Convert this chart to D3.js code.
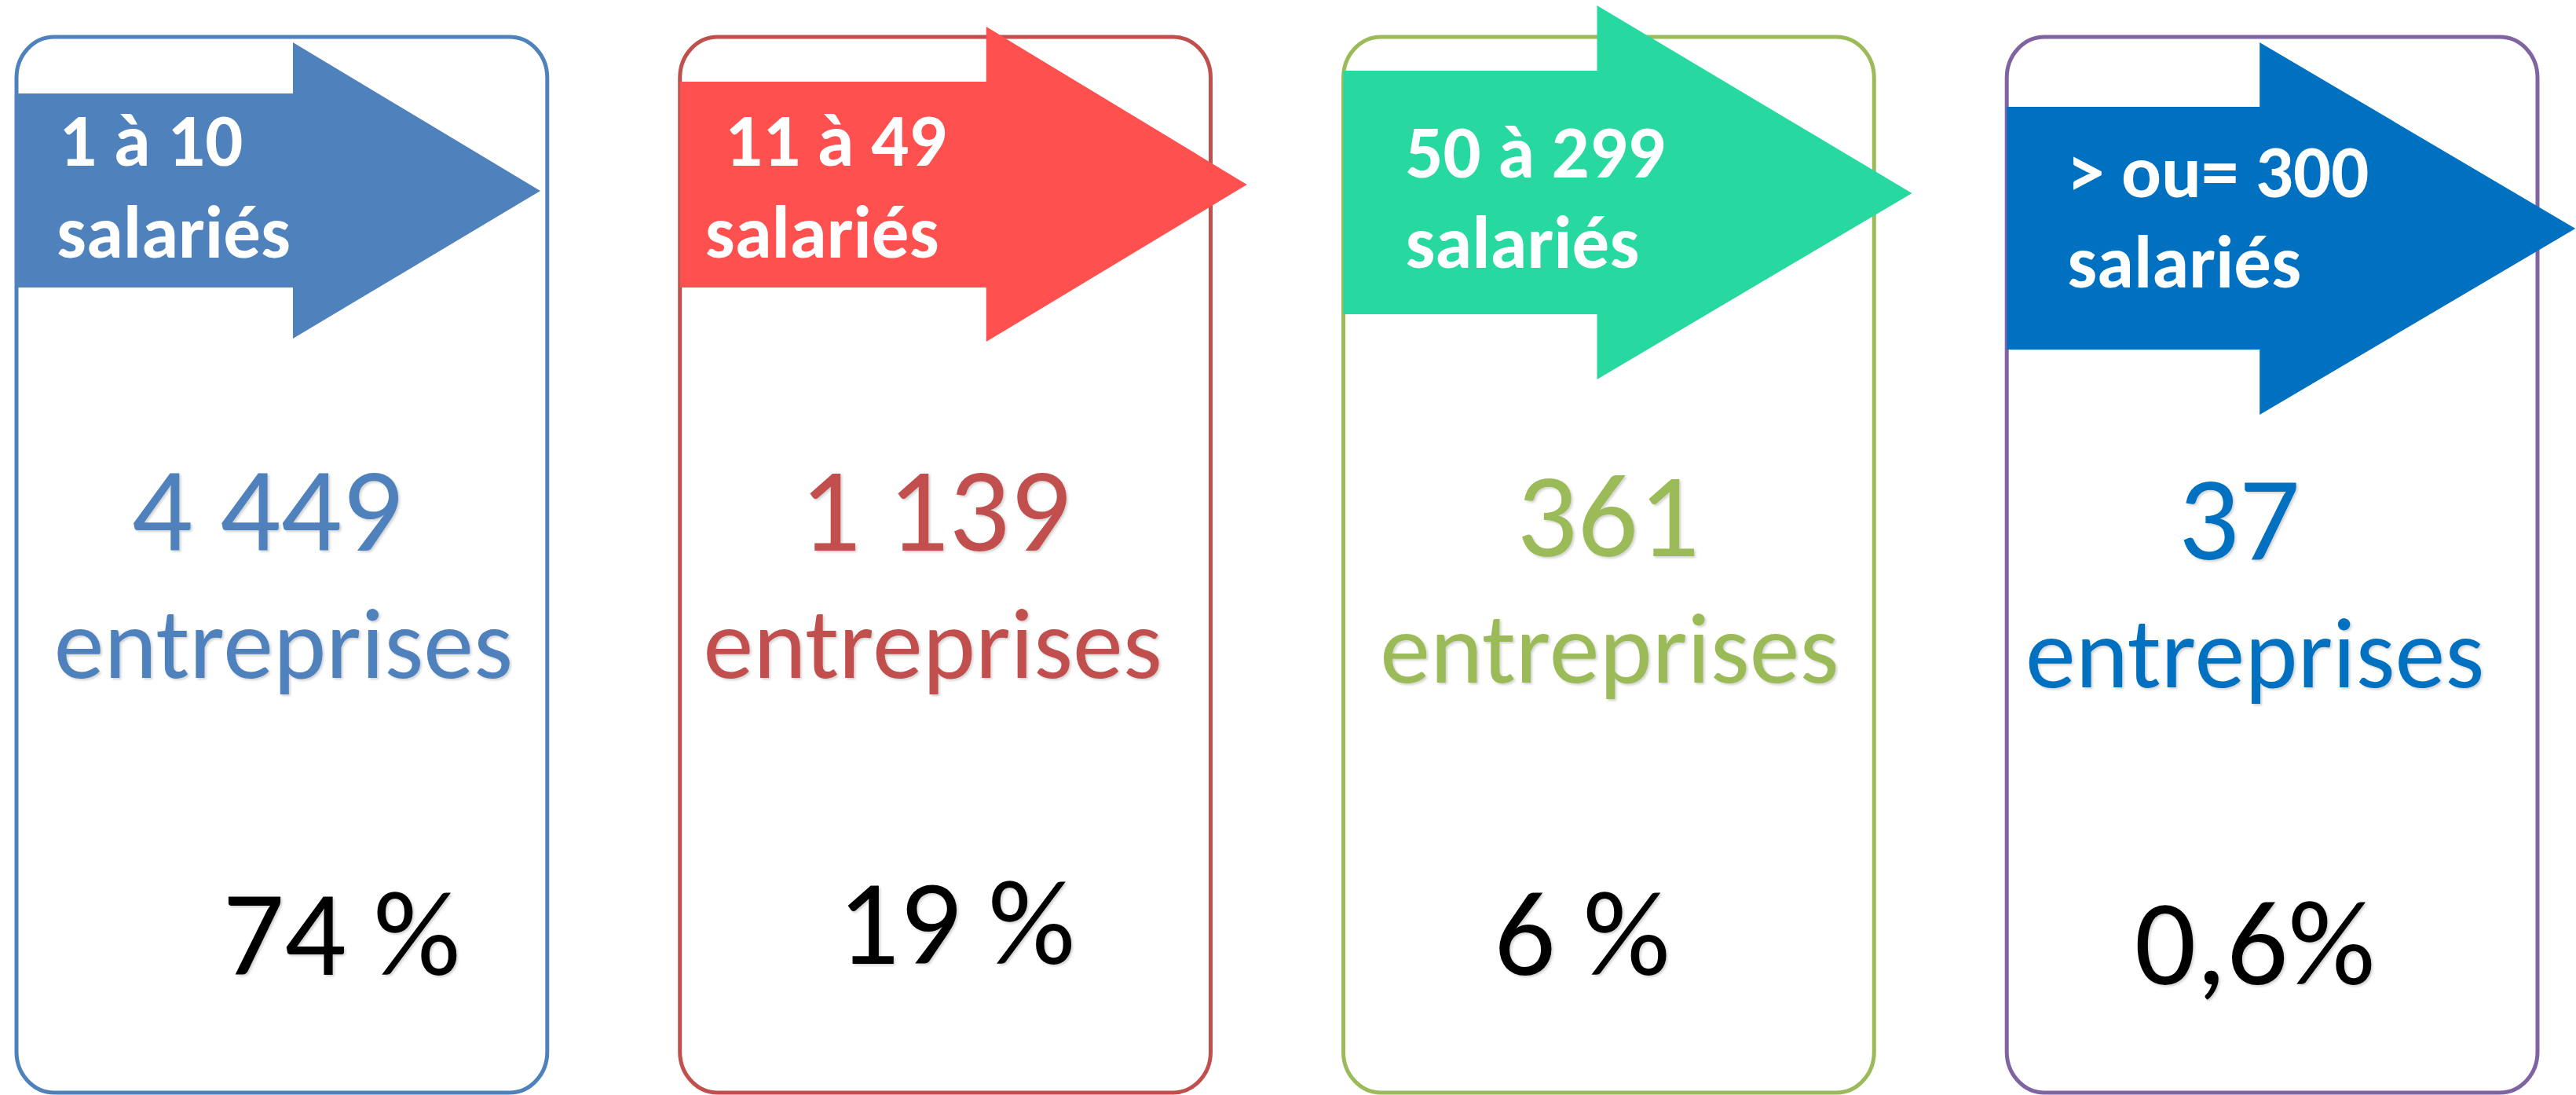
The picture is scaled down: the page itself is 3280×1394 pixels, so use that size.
<!DOCTYPE html>
<html>
<head>
<meta charset="utf-8">
<script src="https://cdn.jsdelivr.net/npm/d3@7"></script>
<style>
  html, body { margin: 0; padding: 0; background: #fff; }
  svg { display: block; }
  text { font-family: Carlito, Calibri, Lato, sans-serif; }
</style>
</head>
<body>
<div id="chart"></div>
<script>
// Data
const sizeBands = ["1 à 10", "11 à 49", "50 à 299", "> ou= 300"];
const sizeUnit = "salariés";
const companyCounts = [4449, 1139, 361, 37];
const companyUnit = "entreprises";
const shareLabels = ["74 %", "19 %", "6 %", "0,6%"];

// Colours per card
const borderColors = ["#4F81BD", "#C0504D", "#9BBB59", "#8064A2"];
const arrowColors = ["#4F81BD", "#FF5050", "#27D8A0", "#0070C0"];
const countColors = ["#4F81BD", "#C0504D", "#9BBB59", "#0070C0"];

// Arrow shapes, relative to the card's left edge (x) and the page (y)
const arrowLayout = [
    {shaftEnd: 352, tip: 667, shaftTop: 119, shaftBottom: 366, headTop: 54, headBottom: 431, tipY: 243},
    {shaftEnd: 390, tip: 722, shaftTop: 104, shaftBottom: 366, headTop: 34, headBottom: 435, tipY: 235},
    {shaftEnd: 323, tip: 724, shaftTop: 90, shaftBottom: 400, headTop: 7, headBottom: 483, tipY: 246},
    {shaftEnd: 322, tip: 724, shaftTop: 136, shaftBottom: 445, headTop: 54, headBottom: 528, tipY: 291}
];
// Header text position and offsets of the big texts from the card centre
const headerLayout = [
    {x1: 54, x2: 51, y1: 211, y2: 328},
    {x1: 57, x2: 32, y1: 211, y2: 328},
    {x1: 79, x2: 79, y1: 226, y2: 341},
    {x1: 77, x2: 77, y1: 251, y2: 366}
];
const textLayout = [
    {num: -19, numY: 701, ent: 2, entY: 863, pct: 76, pctY: 1241},
    {num: -13, numY: 701, ent: -16, entY: 863, pct: 14, pctY: 1227},
    {num: -1, numY: 708, ent: 1, entY: 869, pct: -34, pctY: 1241},
    {num: -42, numY: 712, ent: -22, entY: 875, pct: -22, pctY: 1253}
];

const width = 3280, height = 1394;
const cardTop = 47, cardBottom = 1391;

const frLocale = d3.formatLocale({decimal: ",", thousands: " ", grouping: [3], currency: ["", " €"]});
const formatCount = frLocale.format(",d");

const svg = d3.select("#chart").append("svg")
    .attr("width", width)
    .attr("height", height)
    .attr("viewBox", `0 0 ${width} ${height}`);

// Soft text shadow like the original slide
const shadow = svg.append("defs").append("filter")
    .attr("id", "txtShadow")
    .attr("x", "-10%").attr("y", "-10%")
    .attr("width", "120%").attr("height", "130%");
shadow.append("feDropShadow")
    .attr("dx", 2).attr("dy", 2)
    .attr("stdDeviation", 1.5)
    .attr("flood-color", "#000")
    .attr("flood-opacity", 0.18);

// One band per size class
const xScale = d3.scaleBand()
    .domain(sizeBands)
    .range([21, 3231])
    .paddingInner(0.2)
    .paddingOuter(0);

const cards = svg.selectAll("g.card")
    .data(sizeBands.map((d, i) => ({band: d, i: i})))
    .join("g")
        .attr("class", "card")
        .attr("transform", (d) => `translate(${xScale(d.band)},0)`);

// Rounded frame
cards.append("rect")
    .attr("x", 0)
    .attr("y", cardTop)
    .attr("width", xScale.bandwidth())
    .attr("height", cardBottom - cardTop)
    .attr("rx", 48)
    .attr("ry", 52)
    .attr("fill", "none")
    .attr("stroke", (d) => borderColors[d.i])
    .attr("stroke-width", 5);

// Arrow shape on top of the frame
cards.append("path")
    .attr("d", (d) => {
        const a = arrowLayout[d.i];
        return `M0,${a.shaftTop} L${a.shaftEnd},${a.shaftTop} L${a.shaftEnd},${a.headTop} ` +
            `L${a.tip},${a.tipY} L${a.shaftEnd},${a.headBottom} L${a.shaftEnd},${a.shaftBottom} ` +
            `L0,${a.shaftBottom} Z`;
    })
    .attr("fill", (d) => arrowColors[d.i]);

// Header labels
cards.append("text")
    .attr("x", (d) => headerLayout[d.i].x1)
    .attr("y", (d) => headerLayout[d.i].y1)
    .attr("fill", "#fff")
    .style("font-weight", "bold")
    .style("font-size", "95px")
    .text((d) => d.band);

cards.append("text")
    .attr("x", (d) => headerLayout[d.i].x2)
    .attr("y", (d) => headerLayout[d.i].y2)
    .attr("fill", "#fff")
    .style("font-weight", "bold")
    .style("font-size", "95px")
    .text(sizeUnit);

const mid = xScale.bandwidth() / 2;

// Company counts
cards.append("text")
    .attr("x", (d) => mid + textLayout[d.i].num)
    .attr("y", (d) => textLayout[d.i].numY)
    .attr("text-anchor", "middle")
    .attr("fill", (d) => countColors[d.i])
    .attr("filter", "url(#txtShadow)")
    .style("font-size", "153px")
    .text((d) => formatCount(companyCounts[d.i]));

cards.append("text")
    .attr("x", (d) => mid + textLayout[d.i].ent)
    .attr("y", (d) => textLayout[d.i].entY)
    .attr("text-anchor", "middle")
    .attr("fill", (d) => countColors[d.i])
    .attr("filter", "url(#txtShadow)")
    .style("font-size", "128px")
    .text(companyUnit);

// Shares
cards.append("text")
    .attr("x", (d) => mid + textLayout[d.i].pct)
    .attr("y", (d) => textLayout[d.i].pctY)
    .attr("text-anchor", "middle")
    .attr("fill", "#000")
    .attr("filter", "url(#txtShadow)")
    .style("font-size", "155px")
    .text((d) => shareLabels[d.i]);
</script>
</body>
</html>
